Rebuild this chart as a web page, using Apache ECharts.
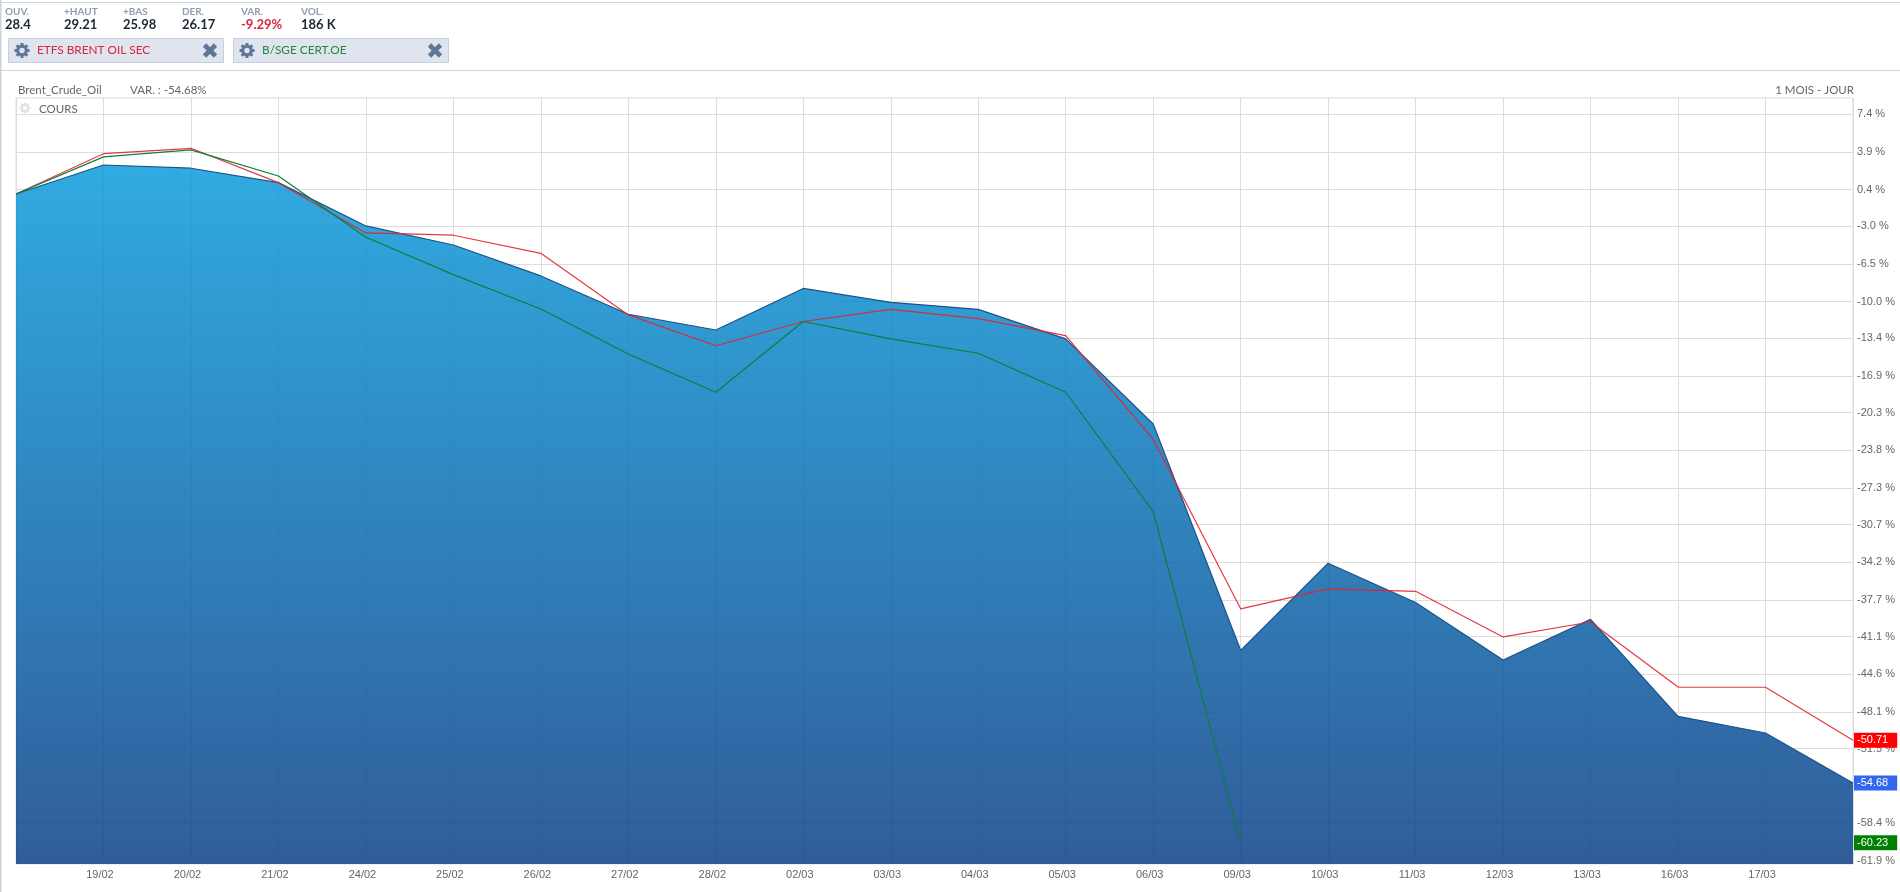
<!DOCTYPE html>
<html lang="fr">
<head>
<meta charset="utf-8">
<title>Brent_Crude_Oil</title>
<style>
  html, body { margin: 0; padding: 0; background: #fff; }
  #chart { width: 1900px; height: 892px; }
</style>
<script src="https://cdn.jsdelivr.net/npm/echarts@6/dist/echarts.min.js"></script>
</head>
<body>
<div id="chart"></div>
<script>
'use strict';

// valeurs
const categories = ['18/02', '19/02', '20/02', '21/02', '24/02', '25/02', '26/02', '27/02', '28/02', '02/03', '03/03',
  '04/03', '05/03', '06/03', '09/03', '10/03', '11/03', '12/03', '13/03', '16/03', '17/03', '18/03'];
const brent = [0, 2.69, 2.39, 1.05, -2.97, -4.74, -7.61, -11.17, -12.63, -8.77, -10.06,
  -10.71, -13.46, -21.36, -42.37, -34.28, -37.93, -43.27, -39.49, -48.5, -50.05, -54.68];
const etfs = [0, 3.74, 4.24, 1.05, -3.62, -3.83, -5.51, -11.23, -14.09, -11.84, -10.71,
  -11.58, -13.16, -22.78, -38.52, -36.66, -36.89, -41.13, -39.74, -45.78, -45.8, -50.71];
const bsge = [0, 3.44, 4.09, 1.67, -4.02, -7.49, -10.68, -14.86, -18.41, -11.84, -13.46,
  -14.79, -18.41, -29.5, -60.23];
const yTicks = [7.4, 3.9, 0.4, -3.0, -6.5, -10.0, -13.4, -16.9, -20.3, -23.8, -27.3, -30.7, -34.2, -37.7,
  -41.1, -44.6, -48.1, -51.5, -55.0, -58.4, -61.9];
const quoteLabels = ['OUV.', '+HAUT', '+BAS', 'DER.', 'VAR.', 'VOL.'];
const quoteValues = ['28.4', '29.21', '25.98', '26.17', '-9.29%', '186 K'];
const quoteX = [5, 64, 123, 182, 241, 301];

const FONT = 'Liberation Sans, Arial, sans-serif';
const HEAD_FONT = 'Lato, sans-serif';
const ICON = '#5d7798';

function txt(x, y, text, color, size, weight, align) {
  return {
    type: 'text', x, y, silent: true,
    style: { text, fill: color, fontFamily: HEAD_FONT, fontSize: size, fontWeight: weight || 'normal',
      align: align || 'left', verticalAlign: 'middle' }
  };
}

function hline(y, color) {
  return { type: 'rect', shape: { x: 0, y, width: 1900, height: 1 }, style: { fill: color }, silent: true };
}

function gear(x, y, r, color) {
  const children = [{ type: 'ring', shape: { cx: 0, cy: 0, r: r * 0.76, r0: r * 0.36 }, style: { fill: color } }];
  for (let i = 0; i < 8; i++) {
    children.push({
      type: 'rect', rotation: i * Math.PI / 4,
      shape: { x: -r * 0.2, y: -r, width: r * 0.4, height: r * 0.4 },
      style: { fill: color }
    });
  }
  return { type: 'group', x, y, silent: true, children };
}

function cross(x, y) {
  const s = { stroke: ICON, lineWidth: 4.6 };
  return {
    type: 'group', x, y, silent: true,
    children: [
      { type: 'line', shape: { x1: -5.5, y1: -5.5, x2: 5.5, y2: 5.5 }, style: s },
      { type: 'line', shape: { x1: -5.5, y1: 5.5, x2: 5.5, y2: -5.5 }, style: s }
    ]
  };
}

function tag(x, label, color) {
  return [
    { type: 'rect', shape: { x: x + 0.5, y: 38.5, width: 215, height: 24 }, style: { fill: '#dfe4ee', stroke: '#c6d0dc' }, silent: true },
    gear(x + 14, 50.5, 7.5, ICON),
    txt(x + 29, 50.5, label, color, 11.8),
    cross(x + 202, 50.5)
  ];
}

function headerGraphics() {
  const items = [
    { type: 'rect', shape: { x: 0, y: 0, width: 1.5, height: 892 }, style: { fill: '#c6d5db' }, silent: true },
    hline(2, '#ccd4dc'),
    hline(70, '#ccd4dc'),
    txt(18, 90.5, 'Brent_Crude_Oil', '#666', 11.5),
    txt(130, 90.5, 'VAR. : -54.68%', '#666', 11.5),
    txt(1854, 90.5, '1 MOIS - JOUR', '#666', 11.5, 'normal', 'right'),
    gear(25, 108, 5.5, '#dfe3e8'),
    txt(39, 109.5, 'COURS', '#666', 11.5)
  ];
  quoteLabels.forEach((label, i) => {
    items.push(txt(quoteX[i], 11.5, label, '#8e9db2', 10, 'bold'));
    items.push(txt(quoteX[i], 25, quoteValues[i], label === 'VAR.' ? '#d9253f' : '#1d2733', 13, 'bold'));
  });
  return items.concat(tag(8, 'ETFS BRENT OIL SEC', '#d9253f'), tag(233, 'B/SGE CERT.OE', '#1f8a3c'));
}

// étiquette de dernière valeur, à droite du tracé
function lastValueMark(value, color) {
  return {
    silent: true, symbol: 'circle', symbolSize: 0, animation: false,
    label: {
      show: true, position: 'right', distance: 1, formatter: String(value),
      color: '#fff', backgroundColor: color, fontFamily: FONT, fontSize: 11,
      padding: [2, 9, 2, 3]
    },
    data: [{ coord: [categories[categories.length - 1], value] }]
  };
}

const chart = echarts.init(document.getElementById('chart'), null, { renderer: 'canvas' });
chart.setOption({
  animation: false,
  backgroundColor: '#fff',
  graphic: headerGraphics(),
  grid: {
    left: 16, right: 47, top: 98, bottom: 28, outerBoundsMode: 'none',
    show: true, borderColor: '#ddd', borderWidth: 1, backgroundColor: 'transparent'
  },
  xAxis: {
    type: 'category', data: categories, boundaryGap: false,
    axisLine: { show: false }, axisTick: { show: false },
    axisLabel: {
      interval: 0, color: '#666', fontFamily: FONT, fontSize: 11, margin: 5, padding: [0, 7, 0, 0],
      // ni la première ni la dernière date ne sont affichées
      formatter: (v, i) => (i === 0 || i === categories.length - 1 ? '' : v)
    },
    splitLine: { show: true, interval: 0, lineStyle: { color: '#ddd', width: 1 } }
  },
  yAxis: {
    type: 'value', position: 'right', min: -62.21, max: 8.91,
    axisLine: { show: false }, axisTick: { show: false, customValues: yTicks },
    axisLabel: {
      customValues: yTicks, color: '#666', fontFamily: FONT, fontSize: 11, margin: 4, padding: [0, 0, 4, 0],
      formatter: (v) => v.toFixed(1) + ' %'
    },
    splitLine: { show: true, lineStyle: { color: '#ddd', width: 1 } }
  },
  series: [
    {
      name: 'Brent_Crude_Oil', type: 'line', data: brent, symbol: 'none', z: 2,
      lineStyle: { color: '#1c5288', width: 1.2 },
      areaStyle: {
        origin: 'start', opacity: 0.85,
        color: new echarts.graphic.LinearGradient(0, 0, 0, 1, [
          { offset: 0, color: 'rgb(12,156,220)' },
          { offset: 1, color: 'rgb(12,64,136)' }
        ])
      },
      markPoint: lastValueMark(-54.68, '#3366ee')
    },
    {
      name: 'ETFS BRENT OIL SEC', type: 'line', data: etfs, symbol: 'none', z: 3,
      lineStyle: { color: '#e3222c', width: 1.2, opacity: 0.9 },
      markPoint: lastValueMark(-50.71, '#ff0000')
    },
    {
      name: 'B/SGE CERT.OE', type: 'line', data: bsge, symbol: 'none', z: 3,
      lineStyle: { color: '#0d7f3a', width: 1.2 },
      markPoint: lastValueMark(-60.23, '#008000')
    }
  ]
});
</script>
</body>
</html>
